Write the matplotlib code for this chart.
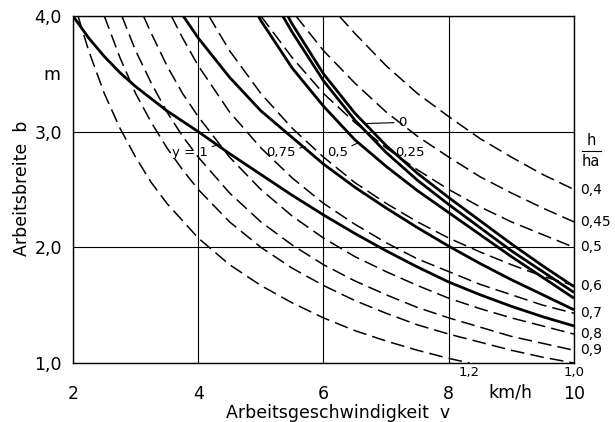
import numpy as np
import matplotlib
matplotlib.use('Agg')
import matplotlib.pyplot as plt

# dashed lines: constant working time per area (h/ha)
hha_labels = ['0,4', '0,45', '0,5', '0,6', '0,7', '0,8', '0,9', '1,0', '1,2']
dashed_v = [
    [6.25, 6.5, 7, 7.5, 8, 8.5, 9, 9.5, 10],
    [5.56, 6, 6.5, 7, 7.5, 8, 8.5, 9, 9.5, 10],
    [5, 5.5, 6, 6.5, 7, 7.5, 8, 8.5, 9, 9.5, 10],
    [4.17, 4.5, 5, 5.5, 6, 6.5, 7, 7.5, 8, 8.5, 9, 9.5, 10],
    [3.57, 3.75, 4, 4.5, 5, 5.5, 6, 6.5, 7, 7.5, 8, 8.5, 9, 9.5, 10],
    [3.125, 3.25, 3.5, 3.75, 4, 4.5, 5, 5.5, 6, 6.5, 7, 7.5, 8, 8.5, 9, 9.5, 10],
    [2.78, 3, 3.25, 3.5, 3.75, 4, 4.5, 5, 5.5, 6, 6.5, 7, 7.5, 8, 8.5, 9, 9.5, 10],
    [2.5, 2.75, 3, 3.25, 3.5, 3.75, 4, 4.5, 5, 5.5, 6, 6.5, 7, 7.5, 8, 8.5, 9, 9.5, 10],
    [2.08, 2.25, 2.5, 2.75, 3, 3.25, 3.5, 4, 4.5, 5, 5.5, 6, 6.5, 7, 7.5, 8, 8.33],
]
dashed_b = [
    [4.00, 3.85, 3.57, 3.33, 3.13, 2.94, 2.78, 2.63, 2.50],
    [4.00, 3.70, 3.42, 3.17, 2.96, 2.78, 2.61, 2.47, 2.34, 2.22],
    [4.00, 3.64, 3.33, 3.08, 2.86, 2.67, 2.50, 2.35, 2.22, 2.11, 2.00],
    [4.00, 3.70, 3.33, 3.03, 2.78, 2.56, 2.38, 2.22, 2.08, 1.96, 1.85, 1.75, 1.67],
    [4.00, 3.81, 3.57, 3.17, 2.86, 2.60, 2.38, 2.20, 2.04, 1.90, 1.79, 1.68, 1.59, 1.50, 1.43],
    [4.00, 3.85, 3.57, 3.33, 3.13, 2.78, 2.50, 2.27, 2.08, 1.92, 1.79, 1.67, 1.56, 1.47, 1.39, 1.32, 1.25],
    [4.00, 3.70, 3.42, 3.17, 2.96, 2.78, 2.47, 2.22, 2.02, 1.85, 1.71, 1.59, 1.48, 1.39, 1.31, 1.23, 1.17, 1.11],
    [4.00, 3.64, 3.33, 3.08, 2.86, 2.67, 2.50, 2.22, 2.00, 1.82, 1.67, 1.54, 1.43, 1.33, 1.25, 1.18, 1.11, 1.05, 1.00],
    [4.00, 3.70, 3.33, 3.03, 2.78, 2.56, 2.38, 2.08, 1.85, 1.67, 1.52, 1.39, 1.28, 1.19, 1.11, 1.04, 1.00],
]

# solid lines, parameter y
v_y1 = [2.0, 2.25, 2.5, 2.75, 3.0, 3.5, 4.0, 4.5, 5.0, 5.5, 6.0, 6.5, 7.0, 7.5, 8.0, 8.5, 9.0, 9.5, 10.0]
b_y1 = [4.00, 3.81, 3.65, 3.51, 3.39, 3.18, 3.00, 2.81, 2.63, 2.45, 2.28, 2.12, 1.97, 1.83, 1.70, 1.59, 1.49, 1.40, 1.32]
v_y075 = [3.76, 4.0, 4.5, 5.0, 5.5, 6.0, 6.5, 7.0, 7.5, 8.0, 8.5, 9.0, 9.5, 10.0]
b_y075 = [4.00, 3.81, 3.47, 3.18, 2.95, 2.72, 2.52, 2.34, 2.17, 2.01, 1.86, 1.72, 1.59, 1.46]
v_y05 = [4.96, 5.0, 5.5, 6.0, 6.5, 7.0, 7.5, 8.0, 8.5, 9.0, 9.5, 10.0]
b_y05 = [4.00, 3.96, 3.55, 3.22, 2.93, 2.70, 2.49, 2.30, 2.11, 1.92, 1.74, 1.56]
v_y025 = [5.35, 5.5, 6.0, 6.5, 7.0, 7.5, 8.0, 8.5, 9.0, 9.5, 10.0]
b_y025 = [4.00, 3.86, 3.44, 3.10, 2.82, 2.58, 2.37, 2.17, 1.97, 1.79, 1.61]
v_y0 = [5.43, 5.5, 6.0, 6.5, 7.0, 7.5, 8.0, 8.5, 9.0, 9.5, 10.0]
b_y0 = [4.00, 3.93, 3.50, 3.16, 2.88, 2.64, 2.43, 2.23, 2.03, 1.84, 1.66]

fig = plt.figure(figsize=(6.15, 4.22), dpi=100)
ax = fig.add_axes([73 / 615, 1 - 363 / 422, 501 / 615, 347 / 422])

for vs, bs in zip(dashed_v, dashed_b):
    ln, = ax.plot(vs, bs, color='black', lw=1.1)
    ln.set_dashes([9, 4])

for vs, bs in [(v_y1, b_y1), (v_y075, b_y075), (v_y05, b_y05), (v_y025, b_y025), (v_y0, b_y0)]:
    ax.plot(vs, bs, color='black', lw=2.0, solid_capstyle='butt')

ax.set_xlim(2, 10)
ax.set_ylim(1, 4)
ax.set_xticks([2, 4, 6, 8, 10])
ax.set_xticklabels(['2', '4', '6', '8', '10'])
ax.set_yticks([1, 2, 3, 4])
ax.set_yticklabels(['1,0', '2,0', '3,0', '4,0'])
ax.tick_params(axis='both', length=0, labelsize=12.5)
ax.tick_params(axis='x', pad=16)
ax.tick_params(axis='y', pad=8)
ax.grid(True, color='black', lw=0.8)
for s in ax.spines.values():
    s.set_linewidth(1.0)

# axis texts
ax.text(-0.102, 0.504, 'Arbeitsbreite  b', rotation=90, ha='center', va='center',
        fontsize=12.5, transform=ax.transAxes)
ax.text(0.529, -0.158, 'Arbeitsgeschwindigkeit  v', ha='center', va='baseline',
        fontsize=12.5, transform=ax.transAxes)
ax.text(-0.026, 3.49, 'm', ha='right', va='center', fontsize=12.5,
        transform=ax.get_yaxis_transform())
ax.text(8.98, 0.741, 'km/h', ha='center', va='center', fontsize=12.5, clip_on=False)

# h/ha labels at curve ends
for lab, vs, bs in zip(hha_labels, dashed_v, dashed_b):
    if bs[-1] > 1.0:
        ax.text(1.012, bs[-1], lab, ha='left', va='center', fontsize=10,
                transform=ax.get_yaxis_transform())
    else:
        ax.text(vs[-1], 0.922, lab, ha='center', va='center', fontsize=9.5, clip_on=False)

ax.text(10.27, 2.925, 'h', ha='center', va='center', fontsize=10.5, clip_on=False)
ax.text(10.27, 2.74, 'ha', ha='center', va='center', fontsize=10.5, clip_on=False)
ax.plot([10.13, 10.43], [2.83, 2.83], color='black', lw=0.8, clip_on=False)

# curve labels
lead = dict(arrowstyle='-', lw=0.8, color='black', shrinkA=1, shrinkB=0)
ax.annotate('y = 1', xy=(4.28, 2.88), xytext=(3.87, 2.82), ha='center', va='center',
            fontsize=9.5, arrowprops=lead)
ax.annotate('0,75', xy=(5.71, 2.87), xytext=(5.32, 2.82), ha='center', va='center',
            fontsize=9.5, arrowprops=lead)
ax.annotate('0,5', xy=(6.54, 2.90), xytext=(6.22, 2.82), ha='center', va='center',
            fontsize=9.5, arrowprops=lead)
ax.annotate('0', xy=(6.66, 3.07), xytext=(7.26, 3.08), ha='center', va='center',
            fontsize=9.5, arrowprops=lead)
ax.annotate('0,25', xy=(7.07, 2.79), xytext=(7.38, 2.82), ha='center', va='center',
            fontsize=9.5, arrowprops=lead)

fig.savefig('out.png', dpi=100)
